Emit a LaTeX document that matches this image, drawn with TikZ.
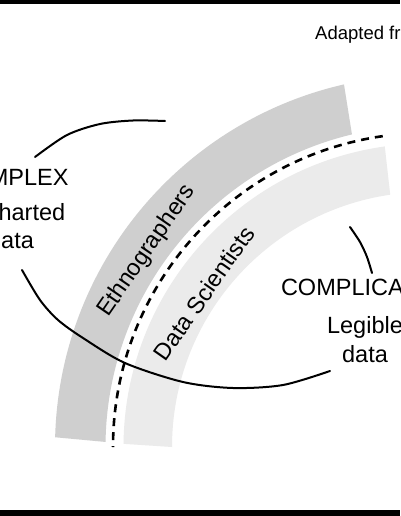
\documentclass[tikz,border=0pt]{standalone}
\usepackage{fontspec}
\setmainfont{Liberation Sans}
\definecolor{ethnogray}{HTML}{CFCFCF}
\definecolor{datagray}{HTML}{EBEBEB}
\begin{document}
\begin{tikzpicture}[x=1pt,y=-1pt,
  lbl/.style={font=\fontsize{23.5}{28}\selectfont, inner sep=0pt},
  smalllbl/.style={font=\fontsize{18.5}{22}\selectfont, inner sep=0pt},
  curve/.style={line width=2pt, black, line cap=round},
  divider/.style={line width=2.6pt, dash pattern=on 8pt off 6pt}]
\useasboundingbox (0,0) rectangle (400,516);
\clip (0,0) rectangle (400,516);
\fill[white] (0,0) rectangle (400,516);
\fill[black] (0,0) rectangle (400,4);
\fill[black] (0,510) rectangle (400,516);
\begin{scope}[shift={(427,447)}]
  \fill[ethnogray] (-102.9:372) arc[start angle=-102.9, end angle=-178.5, radius=372]
    -- (-179.1:321.5) arc[start angle=-179.1, end angle=-103.5, radius=321.5] -- cycle;
  \fill[datagray] (-98:303.5) arc[start angle=-98, end angle=-179.4, radius=303.5]
    -- (-180:255) arc[start angle=-180, end angle=-98.3, radius=255] -- cycle;
  \draw[divider] (-98.1:314) arc[start angle=-98.1, end angle=-180, radius=314];
\end{scope}
\draw[curve] plot[smooth] coordinates {(35,157) (67,135) (100,124) (133,120.5) (165,121)};
\draw[curve] plot[smooth] coordinates {(22,270) (40,300) (58,320) (83,338) (125,363) (183,382) (233,388) (283,385) (330,371)};
\draw[curve] plot[smooth] coordinates {(350,227) (360,242) (367,257) (372,273)};
\node[lbl, anchor=base] (complex) at (11,185) {COMPLEX};
\node[lbl, anchor=base] (uncharted) at (11,220) {Uncharted};
\node[lbl, anchor=base] (dataL) at (11,248) {data};
\node[lbl, anchor=base] (complicated) at (365,295) {COMPLICATED};
\node[lbl, anchor=base] (legible) at (365,333) {Legible};
\node[lbl, anchor=base] (dataR) at (365,362) {data};
\node[lbl, rotate=55.5] (ethno) at (147,251) {Ethnographers};
\node[lbl, rotate=55] (datasci) at (204,293) {Data Scientists};
\node[smalllbl, anchor=base west] (adapted) at (315,40) {Adapted from};
\end{tikzpicture}
\end{document}
